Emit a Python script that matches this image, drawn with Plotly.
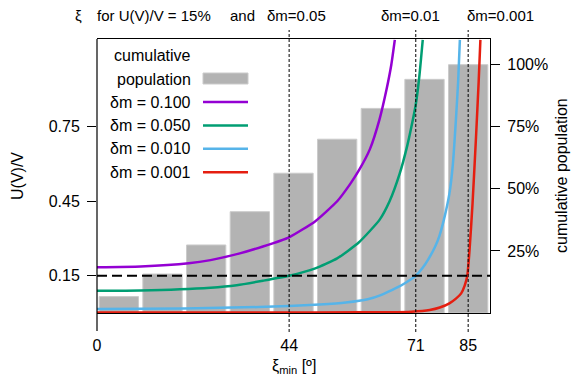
import plotly.graph_objects as go

# ---- data -------------------------------------------------------------
# cumulative population per 10-degree bin of xi_min (percent)
bin_centres = [5, 15, 25, 35, 45, 55, 65, 75, 85]
cum_population = [6.6, 15.7, 27.4, 40.8, 56.3, 70.0, 82.4, 94.1, 100.0]

# U(V)/V versus xi_min for four values of delta m
xi_100 = [0, 10, 21, 26, 32.7, 38, 44, 50, 55, 58, 60, 62.5, 64.7, 66.3,
          67.4, 68.2]
u_100 = [0.184, 0.187, 0.200, 0.213, 0.240, 0.268, 0.305, 0.37, 0.45, 0.52,
         0.575, 0.66, 0.78, 0.90, 1.00, 1.10]

xi_050 = [0, 10, 26, 32, 38, 44, 50, 55, 60, 64.7, 67, 69.3, 71, 72, 73,
          73.8, 74.6]
u_050 = [0.090, 0.091, 0.102, 0.112, 0.130, 0.150, 0.18, 0.22, 0.285, 0.375,
         0.45, 0.56, 0.67, 0.75, 0.84, 0.95, 1.10]

xi_010 = [0, 20, 37, 44, 51, 57, 62, 65, 67, 69, 70.5, 72, 73, 74.5, 76,
          77.5, 78.4, 79.5, 80.7, 81.5, 82.2, 82.7, 83.1]
u_010 = [0.016, 0.018, 0.024, 0.028, 0.034, 0.042, 0.055, 0.072, 0.088,
         0.105, 0.120, 0.137, 0.150, 0.18, 0.22, 0.27, 0.31, 0.38, 0.48,
         0.60, 0.78, 0.93, 1.10]

xi_001 = [0, 40, 60, 67, 72, 76.2, 78.5, 80.7, 82.2, 83.4, 84.2, 84.8, 85.3,
          86.0, 86.8, 87.4, 87.8]
u_001 = [0.002, 0.002, 0.003, 0.003, 0.005, 0.012, 0.022, 0.039, 0.058,
         0.079, 0.11, 0.150, 0.25, 0.44, 0.71, 0.93, 1.10]

u_level = 0.15
xi_cross = [44, 73, 85]
xi_cross_text = ["44", "71", "85"]
dm_labels = ["δm = 0.100", "δm = 0.050", "δm = 0.010", "δm = 0.001"]
dm_top = ["δm=0.05", "δm=0.01", "δm=0.001"]
colors = ["#9400d3", "#009e73", "#56b4e9", "#e51e10"]

left_ticks = [0.15, 0.45, 0.75]
right_ticks = [25, 50, 75, 100]

# ---- geometry helpers (pixels -> paper) -------------------------------
W_FIG, H_FIG = 574, 381
L, R, T, B = 97, 490, 39, 313
PW, PH = R - L, B - T


def px(xp):
    return (xp - L) / PW


def py(yp):
    return (B - yp) / PH


FONT = "Liberation Sans, Arial, Helvetica, sans-serif"
FS = 16
FS_HEAD = 15

fig = go.Figure()

fig.add_trace(go.Bar(
    x=bin_centres, y=cum_population, width=9,
    marker=dict(color="#b3b3b3", line=dict(color="#cbcbcb", width=1)),
    yaxis="y", showlegend=False, hoverinfo="skip"))

for xs, us, c in zip([xi_100, xi_050, xi_010, xi_001],
                     [u_100, u_050, u_010, u_001], colors):
    fig.add_trace(go.Scatter(
        x=xs, y=us, mode="lines", yaxis="y2",
        line=dict(color=c, width=2.5, shape="spline", smoothing=0.5),
        showlegend=False))

shapes = []
# horizontal dashed level line
shapes.append(dict(type="line", xref="x", yref="y2", x0=0, x1=90,
                   y0=u_level, y1=u_level,
                   line=dict(color="black", width=2, dash="10px,5px")))
# vertical dotted crossing lines, running past the plot frame
for xc in xi_cross:
    shapes.append(dict(type="line", xref="x", yref="paper", x0=xc, x1=xc,
                       y0=py(332), y1=py(30),
                       line=dict(color="black", width=1, dash="3px,2px")))
# left axis line extended below the frame (tick at xi=0)
shapes.append(dict(type="line", xref="paper", yref="paper", x0=0, x1=0,
                   y0=py(331), y1=1, line=dict(color="black", width=1.2)))

annotations = []
# header text
head = [("ξ", 78, "center"), ("for U(V)/V = 15%", 95, "left"),
        ("and", 228, "left")]
head += [(t, xl, "left") for xl, t in zip([265, 379, 465], dm_top)]
for t, xl, anc in head:
    annotations.append(dict(text=t, x=px(xl), y=py(15), xanchor=anc,
                            font=dict(family=FONT, size=FS_HEAD,
                                      color="black")))

# key
annotations.append(dict(text="cumulative", x=px(193), y=py(55),
                        xanchor="right"))
annotations.append(dict(text="population", x=px(193), y=py(79),
                        xanchor="right"))
shapes.append(dict(type="rect", xref="paper", yref="paper",
                   x0=px(203), x1=px(248), y0=py(84), y1=py(73),
                   fillcolor="#b3b3b3", line=dict(color="#cbcbcb", width=1)))
for i, (lab, c) in enumerate(zip(dm_labels, colors)):
    yy = 102 + i * 23.4
    annotations.append(dict(text=lab, x=px(193), y=py(yy), xanchor="right"))
    shapes.append(dict(type="line", xref="paper", yref="paper",
                       x0=px(203), x1=px(248), y0=py(yy), y1=py(yy),
                       line=dict(color=c, width=2.5)))

# axis titles
annotations.append(dict(text="U(V)/V", x=px(17), y=py(176), textangle=-90,
                        xanchor="center"))
annotations.append(dict(text="cumulative population", x=px(561), y=py(176),
                        textangle=-90, xanchor="center"))
annotations.append(dict(text="ξ<sub>min</sub> [º]", x=px(294), y=py(366),
                        xanchor="center"))

for a in annotations:
    a.update(xref="paper", yref="paper", yanchor="middle", showarrow=False)
    if "font" not in a:
        a["font"] = dict(family=FONT, size=FS, color="black")

fig.update_layout(
    width=W_FIG, height=H_FIG,
    margin=dict(l=L, r=W_FIG - R, t=T, b=H_FIG - B, pad=0),
    paper_bgcolor="white", plot_bgcolor="white",
    font=dict(family=FONT, size=FS, color="black"),
    bargap=0.1,
    shapes=shapes, annotations=annotations,
    xaxis=dict(range=[0, 90], tickvals=[0] + xi_cross,
               ticktext=["0"] + xi_cross_text,
               ticks="outside", ticklen=18, tickcolor="rgba(0,0,0,0)",
               showline=True, linecolor="black", linewidth=1.2, mirror=True,
               showgrid=False, zeroline=False),
    yaxis=dict(range=[0, 110.35], side="right", tickvals=right_ticks,
               ticktext=[f"{v}%" for v in right_ticks],
               ticks="outside", ticklen=9, tickcolor="black",
               showline=True, linecolor="black", linewidth=1.2,
               showgrid=False, zeroline=False, ticklabelstandoff=4),
    yaxis2=dict(range=[0, 1.1035], side="left", overlaying="y",
                tickvals=left_ticks, ticktext=[f"{v:.2f}" for v in left_ticks],
                ticks="outside", ticklen=9, tickcolor="black",
                showline=False, showgrid=False, zeroline=False,
                ticklabelstandoff=4),
)

fig.write_html("out.html")
